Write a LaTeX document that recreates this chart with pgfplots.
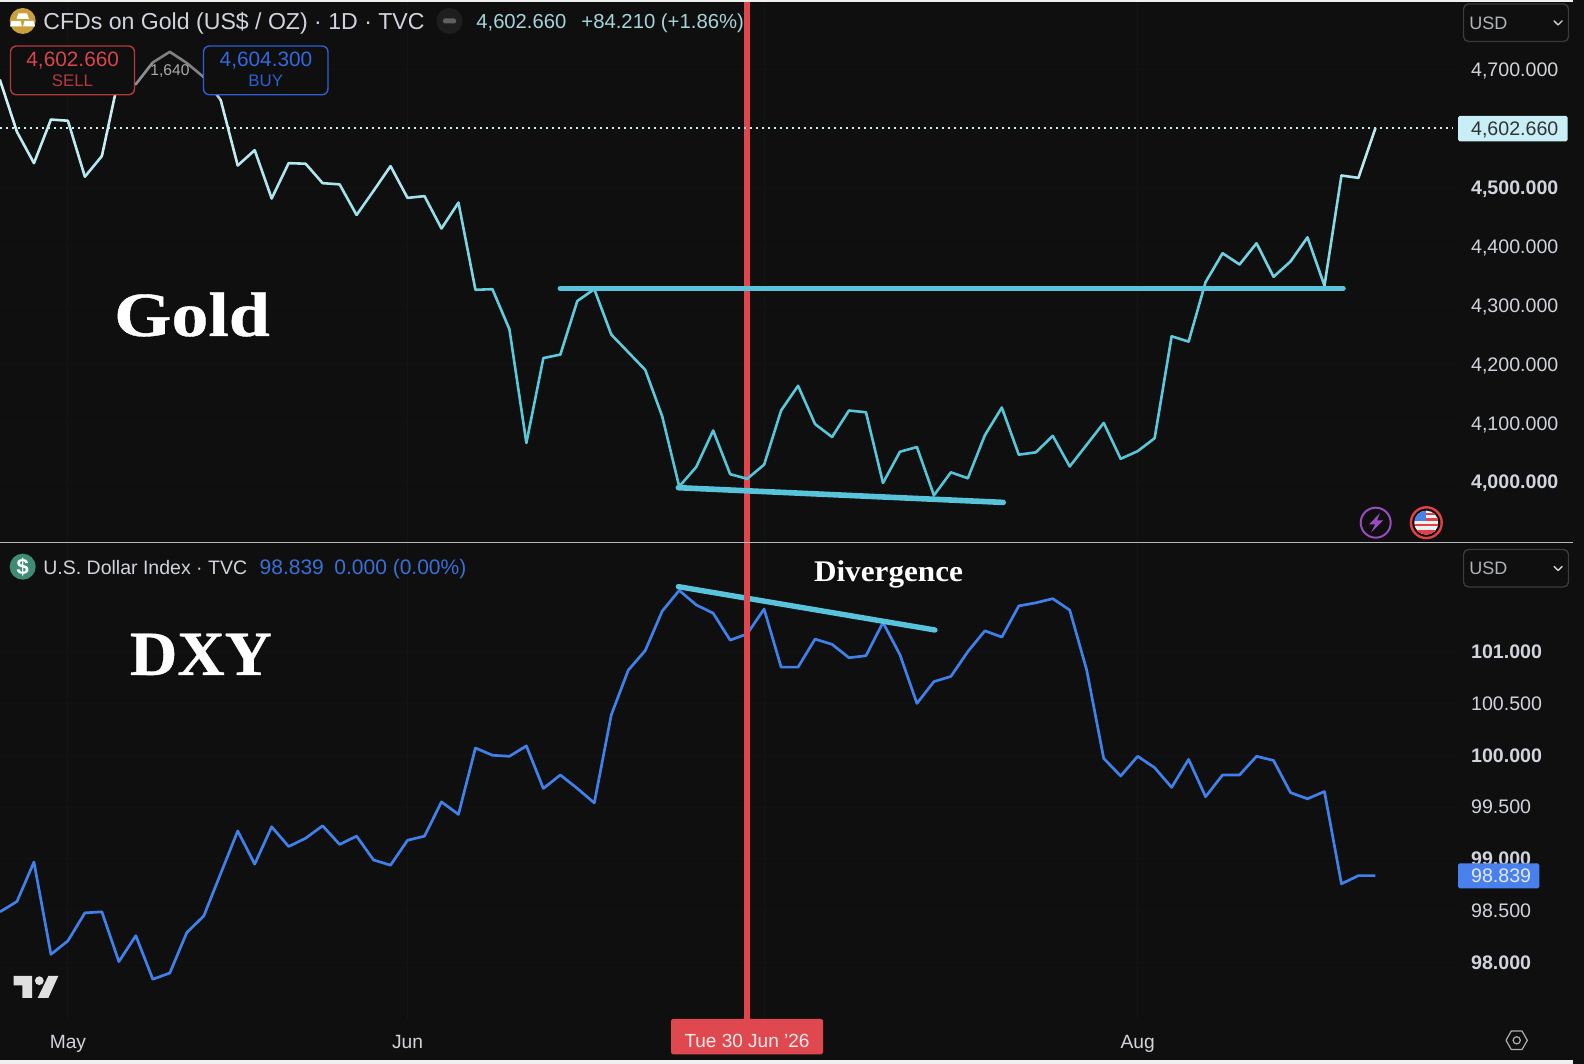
\documentclass[border=0pt]{standalone}
\usepackage{pgfplots}
\usepackage{fontspec}
\setmainfont{Liberation Sans}
\newfontfamily\serifb[BoldFont={Liberation Serif Bold},BoldFeatures={FakeBold=0.6}]{Liberation Serif}
\newfontfamily\serifc[BoldFont={Liberation Serif Bold}]{Liberation Serif}
\pgfplotsset{compat=1.18}
\definecolor{bg}{HTML}{0F0F0F}
\definecolor{gridc}{HTML}{171314}
\definecolor{gridh}{HTML}{121212}
\definecolor{lbl}{HTML}{D1D4DC}
\definecolor{trend}{HTML}{58C4DC}
\definecolor{vred}{HTML}{E0464C}
\definecolor{dxy}{HTML}{4080EA}
\definecolor{dotc}{RGB}{205,238,244}
\definecolor{goldic}{RGB}{201,160,58}
\definecolor{dashbg}{RGB}{30,30,30}
\definecolor{dashfg}{RGB}{95,95,95}
\definecolor{teal}{RGB}{165,212,218}
\definecolor{sellb}{RGB}{178,58,63}
\definecolor{sellt}{RGB}{217,69,77}
\definecolor{buyb}{RGB}{47,95,208}
\definecolor{buyt}{RGB}{52,104,224}
\definecolor{gray1}{RGB}{170,170,170}
\definecolor{usdb}{RGB}{58,58,58}
\definecolor{pbox}{RGB}{200,239,246}
\definecolor{ptxt}{RGB}{50,50,50}
\definecolor{dbox}{RGB}{74,128,236}
\definecolor{dtxt}{RGB}{225,233,250}
\definecolor{purp}{RGB}{154,75,192}
\definecolor{flagr}{RGB}{224,64,70}
\definecolor{flagw}{RGB}{240,240,240}
\definecolor{dgreen}{RGB}{63,140,117}
\definecolor{dblue}{RGB}{58,111,216}
\definecolor{tvl}{RGB}{224,224,224}
\definecolor{dlabel}{RGB}{224,72,80}
\definecolor{hexc}{RGB}{176,176,176}
\newcommand{\fs}[1]{\fontsize{#1}{#1}\selectfont}
\pgfplotsset{
  colormap={goldfade}{rgb255(0pt)=(84,196,216); rgb255(350pt)=(100,205,222); rgb255(500pt)=(170,228,238); rgb255(640pt)=(205,240,245); rgb255(670pt)=(190,200,205); rgb255(700pt)=(128,128,128); rgb255(820pt)=(128,128,128)},
  panel/.style={
    scale only axis, width=729pt, xmin=0, xmax=85.866,
    axis line style={draw=none}, major tick length=0pt, tick style={draw=none},
    xtick={4,24,45,67},
    xmajorgrids, ymajorgrids,
    x grid style={gridc, line width=0.5pt},
    y grid style={gridh, line width=0.5pt},
    yticklabel pos=right,
    yticklabel style={anchor=west, inner sep=0pt, xshift=6.35pt, text=lbl, font=\fs{9.8}, /pgf/number format/assume math mode=true},
    xticklabel style={anchor=base, inner sep=0pt, text=lbl, font=\fs{9.6}},
  }
}
\begin{document}
\begin{tikzpicture}
\useasboundingbox (0,0) rectangle (792pt,532pt);
\fill[bg] (0,0) rectangle (792pt,532pt);

% ---------- DXY ----------
\begin{axis}[panel, at={(0pt,22pt)}, anchor=south west, height=238.5pt,
  ymin=97.447, ymax=102.047,
  ytick={98,98.5,99,99.5,100,100.5,101},
  yticklabels={{\bfseries 98.000},{98.500},{\bfseries 99.000},{99.500},{\bfseries 100.000},{100.500},{\bfseries 101.000}},
  xticklabels={May,Jun,{},Aug},
  xticklabel style={yshift=-14.3pt},
]
\addplot[dxy, line width=1.35pt, line join=round] coordinates {
(0,98.49)(1,98.59)(2,98.97)(3,98.08)(4,98.21)(5,98.48)(6,98.49)(7,98.01)(8,98.26)(9,97.84)
(10,97.90)(11,98.29)(12,98.45)(13,98.86)(14,99.27)(15,98.95)(16,99.31)(17,99.12)(18,99.20)(19,99.32)
(20,99.14)(21,99.22)(22,98.99)(23,98.94)(24,99.18)(25,99.22)(26,99.55)(27,99.43)(28,100.07)(29,100.00)
(30,99.99)(31,100.09)(32,99.68)(33,99.81)(34,99.68)(35,99.54)(36,100.39)(37,100.82)(38,101.01)(39,101.39)
(40,101.59)(41,101.45)(42,101.37)(43,101.11)(44,101.17)(45,101.41)(46,100.85)(47,100.85)(48,101.12)(49,101.07)
(50,100.94)(51,100.96)(52,101.28)(53,100.97)(54,100.50)(55,100.71)(56,100.76)(57,101.00)(58,101.20)(59,101.14)
(60,101.44)(61,101.47)(62,101.51)(63,101.40)(64,100.82)(65,99.97)(66,99.80)(67,99.99)(68,99.88)(69,99.69)
(70,99.96)(71,99.60)(72,99.81)(73,99.81)(74,99.99)(75,99.95)(76,99.64)(77,99.58)(78,99.65)(79,98.76)
(80,98.839)(81,98.839)};
\addplot[trend, line width=2.7pt, line cap=round] coordinates {(39.95,101.626)(55.06,101.208)};
\addplot[vred, line width=3pt] coordinates {(44,97.447)(44,102.047)};
\end{axis}

% ---------- Gold ----------
\begin{axis}[panel, at={(0pt,260.5pt)}, anchor=south west, height=270.5pt,
  ymin=3896.1, ymax=4814.6,
  ytick={4000,4100,4200,4300,4400,4500,4700},
  yticklabels={{\bfseries 4,000.000},{4,100.000},{4,200.000},{4,300.000},{4,400.000},{\bfseries 4,500.000},{4,700.000}},
  yticklabel style={yshift=-0.9pt},
  xticklabels={},
  colormap name=goldfade, point meta min=4000, point meta max=4820,
]
\addplot[vred, line width=3pt] coordinates {(44,3896.1)(44,4814.6)};
\addplot[dotc, line width=0.8pt, dash pattern=on 1pt off 2pt] coordinates {(0,4600.2)(85.58,4600.2)};
\addplot[mesh, point meta=y, line width=1.3pt, line cap=round, line join=round] coordinates {
(0,4682)(1,4594)(2,4541)(3,4615)(4,4613)(5,4518)(6,4553)(7,4687)(8,4675)(9,4712)
(10,4730)(11,4711)(12,4687)(13,4648)(14,4537)(15,4563)(16,4481)(17,4541)(18,4540)(19,4507)
(20,4505)(21,4453)(22,4494)(23,4536)(24,4482)(25,4485)(26,4430)(27,4474)(28,4326)(29,4327)
(30,4259)(31,4066)(32,4210)(33,4216)(34,4307)(35,4327)(36,4250)(37,4220)(38,4190)(39,4111)
(40,3992)(41,4025)(42,4087)(43,4013)(44,4005)(45,4029)(46,4121)(47,4163)(48,4098)(49,4076)
(50,4121)(51,4118)(52,3998)(53,4051)(54,4059)(55,3977)(56,4016)(57,4006)(58,4079)(59,4126)
(60,4046)(61,4050)(62,4078)(63,4026)(64,4063)(65,4100)(66,4039)(67,4052)(68,4074)(69,4247)
(70,4238)(71,4339)(72,4388)(73,4369)(74,4405)(75,4348)(76,4374)(77,4415)(78,4333)(79,4520)
(80,4516)(81,4600.2)};
\addplot[trend, line width=2.8pt, line cap=round] coordinates {(33,4328.5)(79.09,4328.5)};
\addplot[trend, line width=2.8pt, line cap=round] coordinates {(39.95,3990)(59.08,3965)};
\end{axis}

% ---------- overlays in pixel coordinates ----------
\begin{scope}[x=0.5pt, y=-0.5pt, shift={(0pt,532pt)}]
% edges
\fill[white!94!black] (0,0) rectangle (1573,2);
\fill[white!94!black] (0,1060) rectangle (1573,1064);
\fill[white!72!black] (0,541.6) rectangle (1573,543);

% Gold header
\fill[goldic] (22.7,21) circle (6.5pt);
\fill[white] (18.5,13.5) -- (27,13.5) -- (29,19) -- (16.5,19) -- cycle;
\fill[white] (11.5,21) -- (20.5,21) -- (22,26.5) -- (10,26.5) -- cycle;
\fill[white] (24.5,21) -- (33.5,21) -- (35,26.5) -- (23,26.5) -- cycle;
\node[anchor=base west, inner sep=0pt, text=lbl, font=\fs{11.55}] at (43,29.5) {CFDs on Gold (US\$ / OZ) · 1D · TVC};
\fill[dashbg] (449.5,21) circle (6.5pt);
\fill[dashfg, rounded corners=1pt] (443,18.5) rectangle (456,23.5);
\node[anchor=base west, inner sep=0pt, text=teal, font=\fs{10.1}] at (476,28.5) {4,602.660};
\node[anchor=base west, inner sep=0pt, text=teal, font=\fs{10.15}] at (581,28.5) {+84.210 (+1.86\%)};

% SELL / BUY
\draw[sellb, fill=bg, line width=0.7pt, rounded corners=3pt] (10.5,46) rectangle (134.5,94.8);
\node[anchor=center, inner sep=0pt, text=sellt, font=\fs{10.4}] at (72.7,60.5) {4,602.660};
\node[anchor=center, inner sep=0pt, text=sellb, font=\fs{8.4}] at (72.5,81) {SELL};
\draw[buyb, fill=bg, line width=0.7pt, rounded corners=3pt] (203.5,46) rectangle (328,94.8);
\node[anchor=center, inner sep=0pt, text=buyt, font=\fs{10.4}] at (266,60.5) {4,604.300};
\node[anchor=center, inner sep=0pt, text=buyb, font=\fs{8.4}] at (265.7,81) {BUY};
\node[anchor=center, inner sep=0pt, text=gray1, font=\fs{7.8}] at (170,71) {1,640};

% USD boxes
\foreach \yy in {4,549.5}{
  \draw[usdb, line width=0.7pt, rounded corners=2.5pt] (1463.5,\yy) rectangle (1568.5,\yy+37.5);
  \node[anchor=west, inner sep=0pt, text=lbl!85!black, font=\fs{9}] at (1469,\yy+19) {USD};
  \draw[lbl, line width=0.7pt, line cap=round, line join=round] (1554,\yy+17) -- (1558,\yy+21) -- (1562,\yy+17);
}
% last price labels
\fill[pbox, rounded corners=0.8pt] (1458,116) rectangle (1567.7,141.3);
\node[anchor=west, inner sep=0pt, text=ptxt, font=\fs{9.8}] at (1470.7,129.5) {4,602.660};
\fill[dbox, rounded corners=0.8pt] (1458,863.3) rectangle (1539.3,888.3);
\node[anchor=west, inner sep=0pt, text=dtxt, font=\fs{9.8}] at (1470.7,875.8) {98.839};

% event icons
\draw[purp, line width=1pt] (1375.7,522.7) circle (7.5pt);
\fill[purp] (1380,513) -- (1369,524.5) -- (1375,524.5) -- (1371,532.5) -- (1383,520.5) -- (1377,520.5) -- cycle;
\draw[flagr, line width=1.2pt] (1426.3,522.7) circle (7.7pt);
\begin{scope}
  \clip (1426.3,522.7) circle (6pt);
  \fill[flagw] (1414,510) rectangle (1439,535);
  \fill[flagr] (1414,513) rectangle (1439,515.5);
  \fill[flagr] (1414,518.5) rectangle (1439,521);
  \fill[flagr] (1414,524) rectangle (1439,526.5);
  \fill[flagr] (1414,530) rectangle (1439,535);
  \fill[dbox] (1414,510) rectangle (1426,521);
\end{scope}

% DXY header
\fill[dgreen] (22.7,566.7) circle (6.5pt);
\node[anchor=center, inner sep=0pt, text=white, font=\fs{11}\bfseries] at (22.7,566.7) {\$};
\node[anchor=base west, inner sep=0pt, text=lbl, font=\fs{9.75}] at (43,574.3) {U.S. Dollar Index · TVC};
\node[anchor=base west, inner sep=0pt, text=dblue, font=\fs{10.5}] at (259.3,574.3) {98.839};
\node[anchor=base west, inner sep=0pt, text=dblue, font=\fs{10.5}] at (334,574.3) {0.000 (0.00\%)};

% annotations
\node[anchor=base, inner sep=0pt, text=white, font=\serifb\bfseries\fs{31.5}] at (192,336) {\scalebox{1.17}[1]{Gold}};
\node[anchor=base, inner sep=0pt, text=white, font=\serifb\bfseries\fs{31.5}] at (201,675) {\scalebox{1.04}[1]{DXY}};
\node[anchor=base, inner sep=0pt, text=white, font=\serifc\bfseries\fs{15}] at (888.5,581.7) {\scalebox{1.04}[1]{Divergence}};

% TradingView logo
\fill[tvl] (13.5,976) -- (32,976) -- (32,998) -- (22.3,998) -- (22.3,985.5) -- (13.5,985.5) -- cycle;
\fill[tvl] (39.3,980.7) circle (2.2pt);
\fill[tvl] (48.3,976) -- (58.3,976) -- (48.3,998) -- (37.7,998) -- cycle;

% date label
\fill[dlabel, rounded corners=0.8pt] (671,1019) rectangle (823,1054.3);
\node[anchor=center, inner sep=0pt, text=white!92!red, font=\fs{9.5}] at (747,1041) {Tue 30 Jun \symbol{39}26};

% settings hexagon
\draw[hexc, line width=0.6pt, line join=round] (1506,1040.3) -- (1511.3,1031) -- (1522,1031) -- (1527.3,1040.3) -- (1522,1049.6) -- (1511.3,1049.6) -- cycle;
\draw[hexc, line width=0.6pt] (1516.7,1040.3) circle (1.8pt);
\end{scope}
\end{tikzpicture}
\end{document}
